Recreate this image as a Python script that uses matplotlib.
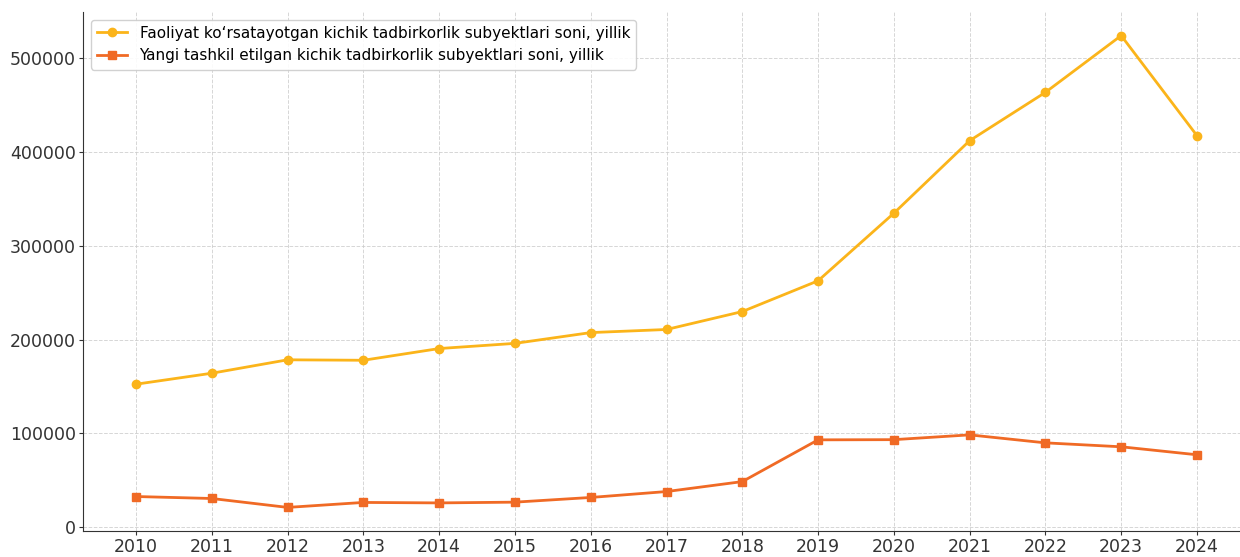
import matplotlib
matplotlib.use("Agg")
import matplotlib.pyplot as plt

years = [2010, 2011, 2012, 2013, 2014, 2015, 2016, 2017, 2018, 2019, 2020, 2021, 2022, 2023, 2024]
active = [152500, 164200, 178500, 178000, 190500, 196000, 207500, 210800, 229900, 262700,
          334700, 412000, 463500, 524000, 417400]
new = [32800, 30700, 21200, 26500, 26000, 26800, 31800, 38100, 48700, 93200,
       93400, 98500, 90000, 85800, 77300]
label_active = "Faoliyat ko‘rsatayotgan kichik tadbirkorlik subyektlari soni, yillik"
label_new = "Yangi tashkil etilgan kichik tadbirkorlik subyektlari soni, yillik"

fig = plt.figure(figsize=(12.4, 5.57), dpi=100)
ax = fig.add_axes([83/1240, 26/557, 1167/1240, 519/557])
ax.plot(years, active, color="#FBB41A", marker="o", markersize=6, linewidth=2, label=label_active)
ax.plot(years, new, color="#F06A25", marker="s", markersize=6, linewidth=2, label=label_new)
ax.set_xticks(years)
ax.grid(True, linestyle="--", color="#cccccc", linewidth=0.7, alpha=0.8)
for s in ["top", "right"]:
    ax.spines[s].set_visible(False)
ax.spines["left"].set_color("#333333")
ax.spines["bottom"].set_color("#333333")
ax.tick_params(labelsize=12.5, colors="#333333", length=3, pad=2)
ax.legend(loc="upper left", fontsize=11, framealpha=0.9)
fig.savefig("out.png", dpi=100)
